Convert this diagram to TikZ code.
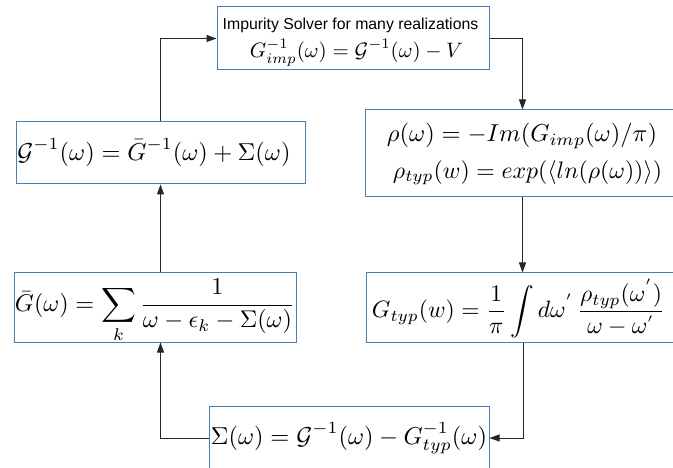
\documentclass[tikz,border=0pt]{standalone}
\usepackage{amsmath}
\usepackage{graphicx}
\usepackage{fontspec}
\usetikzlibrary{arrows.meta,calc}
\newfontfamily\arialfont{Liberation Sans}
\definecolor{boxblue}{RGB}{74,126,187}
\newcommand{\fitw}[2]{\resizebox{#1pt}{!}{$\displaystyle #2$}}
\begin{document}
\begin{tikzpicture}[x=1pt,y=-1pt,
  box/.style={draw=boxblue,line width=1pt,inner sep=0pt,fill=white},
  flow/.style={draw=black!85,line width=1pt,-{Triangle[length=10pt,width=7pt]}},
  txt/.style={inner sep=0pt}]
\useasboundingbox (0,0) rectangle (673,468);
% boxes
\node[box,minimum width=272pt,minimum height=63pt] (top) at (353,38.5) {};
\node[box,minimum width=289pt,minimum height=62pt] (lmid) at (160.5,153) {};
\node[box,minimum width=315pt,minimum height=87pt] (rmid) at (522.5,153.5) {};
\node[box,minimum width=282pt,minimum height=69pt] (llow) at (155,307.5) {};
\node[box,minimum width=314pt,minimum height=69pt] (rlow) at (523,307.5) {};
\node[box,minimum width=280pt,minimum height=64pt] (bot) at (349,438) {};
% texts
\node[txt] (toptitle) at (350.5,25) {\fontsize{15.8}{18}\selectfont\arialfont Impurity Solver for many realizations};
\node[txt] (topeq) at (356.5,52.5) {\fitw{213}{G^{-1}_{imp}(\omega) = \mathcal{G}^{-1}(\omega) - V}};
\node[txt] (lmideq) at (154,152.5) {\fitw{273}{\mathcal{G}^{-1}(\omega) = \bar{G}^{-1}(\omega) + \Sigma(\omega)}};
\node[txt] (rmideqa) at (522,136) {\fitw{270}{\rho(\omega) = -Im(G_{imp}(\omega)/\pi)}};
\node[txt] (rmideqb) at (527.5,172.5) {\fitw{269}{\rho_{typ}(w) = exp(\langle ln(\rho(\omega))\rangle)}};
\node[txt] (lloweq) at (155,311) {\fitw{280}{\bar{G}(\omega) = \sum_k \frac{1}{\omega-\epsilon_k-\Sigma(\omega)}}};
\node[txt] (rloweq) at (518.5,308.5) {\fitw{293}{G_{typ}(w) = \frac{1}{\pi}\int d\omega^{'}\,\frac{\rho_{typ}(\omega^{'})}{\omega-\omega^{'}}}};
\node[txt] (boteq) at (349,438) {\fitw{276}{\Sigma(\omega) = \mathcal{G}^{-1}(\omega) - G^{-1}_{typ}(\omega)}};
% connectors
\draw[flow] (lmid.north) |- (top.west);
\draw[flow] (top.east) -| (rmid.north);
\draw[flow] (rmid.south) -- (rmid.south |- rlow.north);
\draw[flow] (rlow.south) |- (bot.east);
\draw[flow] (bot.west) -| (lmid.south |- llow.south);
\draw[flow] (llow.north -| lmid.south) -- (lmid.south);
\end{tikzpicture}
\end{document}
